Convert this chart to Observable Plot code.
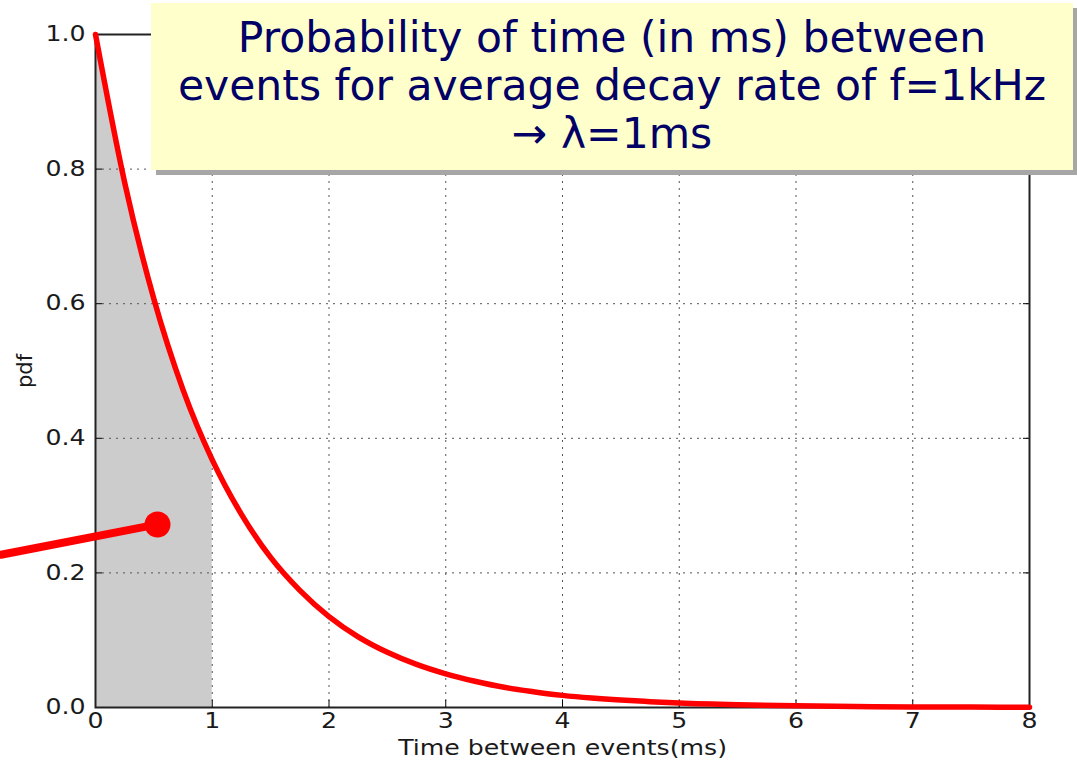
<!DOCTYPE html>
<html>
<head>
<meta charset="utf-8">
<script src="https://cdn.jsdelivr.net/npm/d3@7"></script>
<script src="https://cdn.jsdelivr.net/npm/@observablehq/plot@0.6"></script>
<style>
  html, body { margin: 0; padding: 0; background: #fff; }
  #wrap { position: relative; width: 1077px; height: 763px; overflow: hidden; }
  #title {
    position: absolute; left: 151px; top: 3px; width: 922px; height: 167px;
    background: #ffffcc; box-shadow: 5px 5px 0 #a6a6a6;
    font-family: "DejaVu Sans", sans-serif; font-size: 42.5px; line-height: 48px;
    color: #000066; text-align: center; box-sizing: border-box; padding-top: 11px;
    white-space: nowrap;
  }
</style>
</head>
<body>
<div id="wrap"><div id="chart"></div><div id="title">Probability of time (in ms) between<br>events for average decay rate of f=1kHz<br>→ λ=1ms</div></div>
<script>
// Values
const timeMs = [0, 0.25, 0.5, 0.75, 1, 1.25, 1.5, 1.75, 2, 2.25, 2.5, 2.75, 3, 3.25, 3.5, 3.75, 4, 4.25, 4.5, 4.75, 5, 5.5, 6, 6.5, 7, 7.5, 8];
const pdfValues = [1.0, 0.78, 0.607, 0.472, 0.368, 0.287, 0.223, 0.174, 0.135, 0.105, 0.082, 0.064, 0.050, 0.039, 0.030, 0.0235, 0.018, 0.014, 0.011, 0.0087, 0.0067, 0.0041, 0.0025, 0.0015, 0.0009, 0.0006, 0.0003];
const shadeUpTo = 1;
const xTicks = [0, 1, 2, 3, 4, 5, 6, 7, 8];
const yTicks = [0, 0.2, 0.4, 0.6, 0.8, 1.0];
const pointerX = [-0.81, 0.531];
const pointerY = [0.227, 0.272];

const curve = timeMs.map((t, i) => ({t, p: pdfValues[i]}));
const shaded = curve.filter(d => d.t <= shadeUpTo);
const pointer = pointerX.map((x, i) => ({x, y: pointerY[i]}));

const font = "DejaVu Sans, sans-serif";
const noText = () => "";
const gridStyle = {stroke: "#555", strokeOpacity: 1, strokeDasharray: "2,5", strokeWidth: 1};
const chart = Plot.plot({
  width: 1077, height: 763,
  marginLeft: 95, marginRight: 48, marginTop: 34, marginBottom: 56,
  style: {fontFamily: font, fontSize: "21px", color: "#1a1a1a", background: "#fff"},
  x: {domain: [0, 8]},
  y: {domain: [0, 1]},
  marks: [
    Plot.areaY(shaded, {x: "t", y: "p", fill: "#cccccc", curve: "monotone-x"}),
    Plot.gridX(xTicks.slice(1, -1), gridStyle),
    Plot.gridY(yTicks.slice(1, -1), gridStyle),
    Plot.axisX(xTicks, {anchor: "bottom", tickSize: 0, tickPadding: 6, fontSize: 21, label: "Time between events(ms)", labelAnchor: "center", labelArrow: "none", labelOffset: 47, tickFormat: d => String(d)}),
    Plot.axisY(yTicks, {anchor: "left", tickSize: 0, tickPadding: 10, fontSize: 21, label: "pdf", labelAnchor: "center", labelArrow: "none", labelOffset: 78, tickFormat: d3.format(".1f")}),
    Plot.axisX(xTicks, {anchor: "bottom", tickSize: 7, dy: -7, tickFormat: noText, label: null, stroke: "#000"}),
    Plot.axisX(xTicks, {anchor: "top", tickSize: 7, dy: 7, tickFormat: noText, label: null, stroke: "#000"}),
    Plot.axisY(yTicks, {anchor: "left", tickSize: 7, dx: 7, tickFormat: noText, label: null, stroke: "#000"}),
    Plot.axisY(yTicks, {anchor: "right", tickSize: 7, dx: -7, tickFormat: noText, label: null, stroke: "#000"}),
    Plot.frame({stroke: "#222", strokeWidth: 2}),
    Plot.line(curve, {x: "t", y: "p", stroke: "#ff0000", strokeWidth: 5.5, curve: "monotone-x"}),
    Plot.line(pointer, {x: "x", y: "y", stroke: "#ff0000", strokeWidth: 8}),
    Plot.dot(pointer.slice(1), {x: "x", y: "y", r: 13, fill: "#ff0000"})
  ]
});
document.getElementById("chart").appendChild(chart);

// The reference image is horizontally stretched: widen the chart's texts to match
const stretch = 1.2;
chart.querySelectorAll('g[aria-label="x-axis tick label"] text, g[aria-label="y-axis tick label"] text, g[aria-label="x-axis label"] text').forEach(t => {
  const b = t.getBBox();
  const anchor = t.getAttribute("text-anchor") || t.parentNode.getAttribute("text-anchor") || "middle";
  const cx = anchor === "end" ? b.x + b.width : anchor === "start" ? b.x : b.x + b.width / 2;
  const prev = t.getAttribute("transform") || "";
  t.setAttribute("transform", `${prev} translate(${cx},0) scale(${stretch},1) translate(${-cx},0)`);
});
</script>
</body>
</html>
